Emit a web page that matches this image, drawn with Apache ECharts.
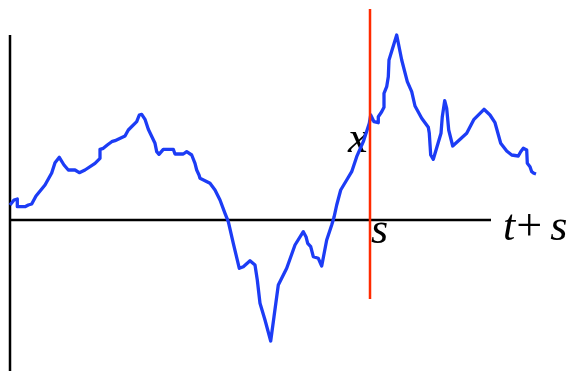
<!DOCTYPE html>
<html><head><meta charset="utf-8">
<script src="https://cdn.jsdelivr.net/npm/echarts@6/dist/echarts.min.js"></script>
<style>html,body{margin:0;padding:0;background:#fff}#c{width:567px;height:371px}</style>
</head><body><div id="c"></div>
<script>
// path samples: time position and value (height above the time axis)
var pathT = [10,14,17.3,17.3,25,28.3,31.7,36,45,51.7,55,59.3,61,64,68.3,75,79.3,85,95,100,100,103.3,107.3,111.7,115,116.7,125,128.3,136.7,139.3,141.7,145,148.3,155,156.7,159,163.3,173.3,175,183.3,186.7,191.7,195,196.7,199,200,205,210,215,220,225,228.3,233.3,239.3,243.3,250,255,257.3,260,265,270.7,274,278.3,286.7,295,303.3,306,307.7,310.7,313.3,318.3,321.7,326.7,331.7,334,336.7,340.7,346.7,351.7,356.7,363.3,369.3,370.7,372.7,374,378.3,378.3,381.7,384,384,386.7,388.3,389,396.7,401.7,407.3,411.7,415,421.7,428.3,429.3,430.7,433.3,441,442.3,444.7,446.7,448.7,452.7,466.7,474,484,490,495,500.7,506.7,511.7,518.3,520.7,523.3,526.7,527.3,530,531.7,534,536];
var pathY = [15,20,21,13.3,13.3,15,16,24,35,47,57.3,62.7,63.3,55,50,50,47.3,50,56.7,61.7,70.7,71.7,75,78.3,79.3,80.7,84,90,98.3,105,105.7,100.7,90.7,76.7,68.3,65.7,70.7,70.7,66,66,68.3,65,56.7,50,45,41.7,39.3,36.7,30,20,6.7,-1.7,-23.3,-48.3,-46.7,-40.7,-45,-60,-83.3,-100,-121,-96.7,-65,-48.3,-25,-11.7,-16.7,-23.3,-26.7,-36.7,-38.3,-46,-20,-5,2.7,15,30,40,48.3,63.3,78.3,96.7,105,105,98.3,97.3,103.3,108.3,112.7,126.7,133.3,143.3,160,185,160,138.3,128.3,114,101.7,92.7,86.7,65,60.7,86.7,103.3,119.3,111.7,90,74,86.7,100.7,110.7,105,97.3,76.7,69,65,64,68.3,71.7,70,56.7,53.3,48.3,46.7,46];
// time axis, value axis and the marked time s
var timeAxis = [[10,0],[491,0]];
var valueAxis = [[10,185],[10,-151]];
var sMark = [[370,211],[370,-79]];

var chart = echarts.init(document.getElementById('c'), null, {renderer:'canvas'});
var path = pathT.map(function(t,i){return [t,pathY[i]];});
var serif = '"Liberation Serif","DejaVu Serif",serif';
chart.setOption({
  animation:false,
  grid:{left:0,right:0,top:0,bottom:0},
  xAxis:{type:'value',min:0,max:567,show:false},
  yAxis:{type:'value',min:-151,max:220,show:false},
  series:[
    {type:'line',data:timeAxis,symbol:'none',lineStyle:{color:'#000',width:2.5}},
    {type:'line',data:valueAxis,symbol:'none',lineStyle:{color:'#000',width:2.5}},
    {type:'line',data:path,symbol:'none',lineStyle:{color:'#1c3cf5',width:3.3,join:'round'}},
    {type:'line',data:sMark,symbol:'none',lineStyle:{color:'#ff2a00',width:2.5}}
  ],
  graphic:[
    {type:'text',left:348,top:118,style:{text:'x',font:'italic 44px '+serif,fill:'#000'}},
    {type:'text',left:371,top:209,style:{text:'s',font:'italic 44px '+serif,fill:'#000'}},
    {type:'text',left:503,top:205,style:{text:'{i|t}{n|+}{i|s}',rich:{i:{font:'italic 44px '+serif,fill:'#000'},n:{font:'46px '+serif,fill:'#000',padding:[0,8,0,1]}}}}
  ]
});
</script></body></html>
